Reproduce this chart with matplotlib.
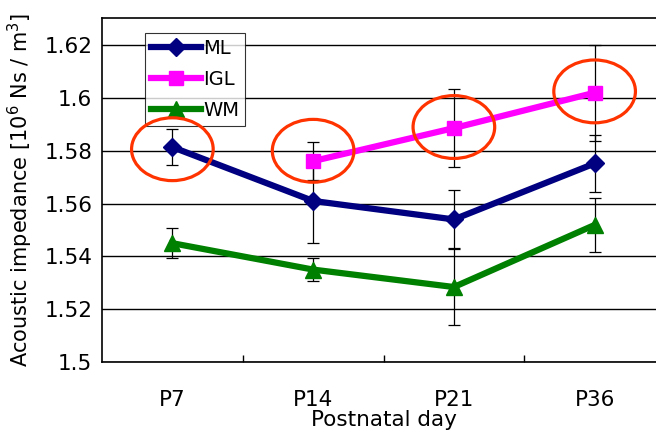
import matplotlib
matplotlib.use("Agg")
import matplotlib.pyplot as plt
from matplotlib.patches import Ellipse
import numpy as np

days = ["P7", "P14", "P21", "P36"]
ml = [1.5814, 1.5610, 1.5540, 1.5752]
ml_err = [0.0068, 0.0160, 0.0110, 0.0108]
igl_days = [1, 2, 3]
igl = [1.5761, 1.5886, 1.6020]
igl_err = [0.0072, 0.0148, 0.0182]
wm = [1.5450, 1.5350, 1.5284, 1.5519]
wm_err = [0.0056, 0.0045, 0.0145, 0.0102]
yticks = [1.5, 1.52, 1.54, 1.56, 1.58, 1.6, 1.62]
ytick_labels = ["1.5", "1.52", "1.54", "1.56", "1.58", "1.6", "1.62"]
circle_x = [0, 1, 2, 3]
circle_y = [1.5806, 1.5800, 1.5890, 1.6025]

plt.rcParams['font.family'] = ['DejaVu Sans']
fig = plt.figure(figsize=(6.56, 4.34), dpi=100)
ax = fig.add_axes([102/656, 72/434, 563/656, 344/434])

x = np.arange(len(days))
lw = 4.5
ax.errorbar(x, ml, yerr=ml_err, fmt='none', ecolor='black', elinewidth=0.9, capsize=4, capthick=0.9, zorder=2)
ax.errorbar(igl_days, igl, yerr=igl_err, fmt='none', ecolor='black', elinewidth=0.9, capsize=4, capthick=0.9, zorder=2)
ax.errorbar(x, wm, yerr=wm_err, fmt='none', ecolor='black', elinewidth=0.9, capsize=4, capthick=0.9, zorder=2)

ax.plot(x, ml, color='#000080', lw=lw, marker='D', ms=9, label='ML', zorder=3)
ax.plot(igl_days, igl, color='#FF00FF', lw=lw, marker='s', ms=10, label='IGL', zorder=3)
ax.plot(x, wm, color='#008000', lw=lw, marker='^', ms=11, label='WM', zorder=3)

for cx, cy in zip(circle_x, circle_y):
    e = Ellipse((cx, cy), width=0.58, height=0.0238, fill=False, edgecolor='#FF3300', lw=2.3, zorder=6)
    ax.add_patch(e)

ax.set_xlim(-0.5, 3.5)
ax.set_ylim(1.5, 1.6303)
ax.set_yticks(yticks)
ax.set_yticklabels(ytick_labels, fontsize=15.5)
ax.set_xticks(x)
ax.set_xticklabels(days, fontsize=15.5)
ax.set_xticks([0.5, 1.5, 2.5], minor=True)
ax.tick_params(axis='x', which='major', length=0, pad=20)
ax.tick_params(axis='x', which='minor', direction='in', length=5, width=1)
ax.tick_params(axis='y', length=0, pad=7)
ax.yaxis.grid(True, color='black', lw=1)
ax.set_axisbelow(True)
for s in ax.spines.values():
    s.set_color('black')
    s.set_linewidth(1.2)

ax.set_xlabel("Postnatal day", fontsize=15.5, labelpad=0)
ax.set_ylabel("Acoustic impedance [10$^6$ Ns / m$^3$]", fontsize=15, labelpad=7)

leg = ax.legend(loc='upper left', bbox_to_anchor=((145-102)/563, (344-15)/344), fontsize=14,
                frameon=True, fancybox=False, edgecolor='black', handlelength=2.6,
                borderpad=0.3, labelspacing=0.62, handletextpad=0.1, borderaxespad=0)
leg.get_frame().set_linewidth(0.8)
leg.set_zorder(5)

fig.savefig("out.png", dpi=100)
